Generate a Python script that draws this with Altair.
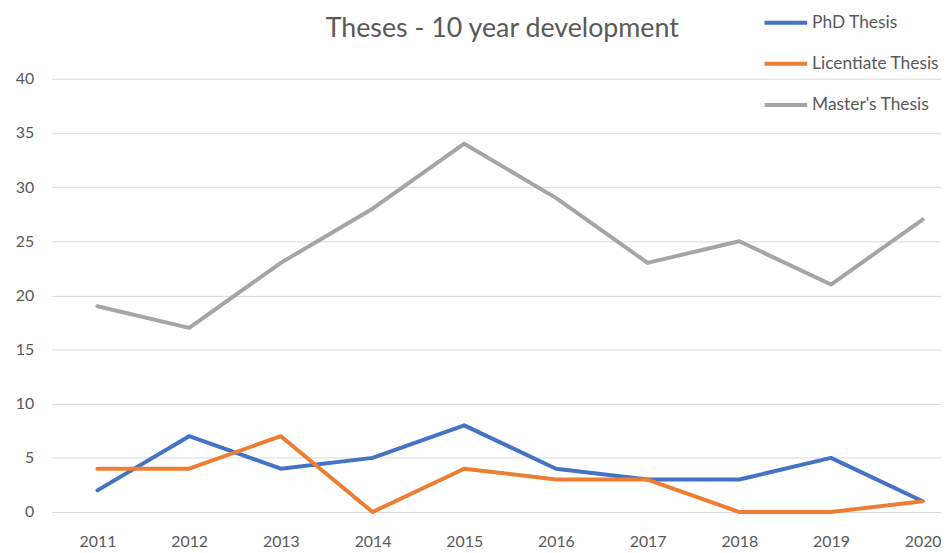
import altair as alt
import pandas as pd

years = [2011, 2012, 2013, 2014, 2015, 2016, 2017, 2018, 2019, 2020]
phd = [2, 7, 4, 5, 8, 4, 3, 3, 5, 1]
licentiate = [4, 4, 7, 0, 4, 3, 3, 0, 0, 1]
masters = [19, 17, 23, 28, 34, 29, 23, 25, 21, 27]
series_names = ["PhD Thesis", "Licentiate Thesis", "Master's Thesis"]
series_colors = ["#4472C4", "#ED7D31", "#A5A5A5"]

rows = []
for name, vals in zip(series_names, [phd, licentiate, masters]):
    for yr, v in zip(years, vals):
        rows.append({"Year": yr, "Count": v, "Series": name})
df = pd.DataFrame(rows)

TXT = "#595959"
FONT = "Lato"

chart = alt.Chart(df).mark_line(strokeWidth=4, strokeCap="round", strokeJoin="round").encode(
    x=alt.X("Year:Q",
            scale=alt.Scale(domain=[2010.5, 2020.2], nice=False, zero=False),
            axis=alt.Axis(values=years, format="d", title=None, grid=False, domain=False,
                          ticks=False, labelPadding=22, labelFontSize=16, labelColor=TXT,
                          labelFont=FONT)),
    y=alt.Y("Count:Q",
            scale=alt.Scale(domain=[0, 40], nice=False),
            axis=alt.Axis(values=[0, 5, 10, 15, 20, 25, 30, 35, 40], title=None, grid=True,
                          gridColor="#D9D9D9", gridWidth=1, domain=False, ticks=False,
                          labelPadding=18, labelFontSize=16, labelColor=TXT, labelFont=FONT)),
    color=alt.Color("Series:N",
                    scale=alt.Scale(domain=series_names, range=series_colors),
                    sort=series_names,
                    legend=alt.Legend(title=None, orient="none", legendX=717, legendY=-80,
                                      symbolType="stroke", symbolSize=1849, symbolStrokeWidth=4,
                                      labelFontSize=17.5, labelColor=TXT, labelFont=FONT,
                                      labelOffset=3, rowPadding=9.5, padding=0, labelLimit=300)),
    order=alt.Order("order:Q"),
).transform_calculate(
    order="datum.Series == \"Master's Thesis\" ? 0 : (datum.Series == 'PhD Thesis' ? 1 : 2)"
).properties(
    width=897,
    height=437,
    title=alt.TitleParams("Theses - 10 year development", fontSize=27, font=FONT, color=TXT,
                          fontWeight="normal", anchor="middle", frame="group", dy=48, dx=6),
    padding={"left": 44, "top": 69, "right": 0, "bottom": 38},
    autosize=alt.AutoSizeParams(type="none"),
).configure_view(stroke=None)

chart.save("out.html", embed_options={"renderer": "svg", "actions": False})
